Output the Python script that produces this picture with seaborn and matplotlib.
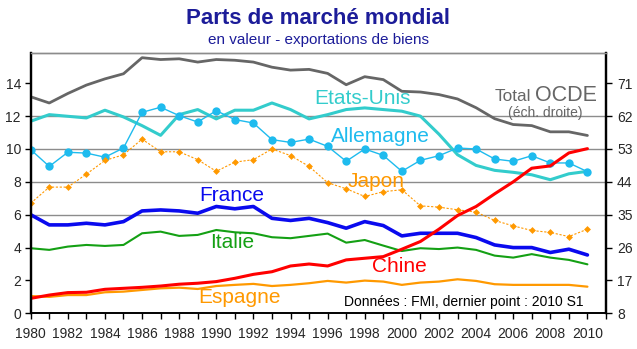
import numpy as np
import pandas as pd
import matplotlib
matplotlib.use("Agg")
import matplotlib.pyplot as plt
import seaborn as sns

years = list(range(1980, 2011))

etats_unis = [11.69, 12.09, 11.99, 11.89, 12.36, 11.95, 11.42, 10.83, 12.09, 12.40, 11.83, 12.36, 12.36, 12.80, 12.40, 11.83,
              12.09, 12.40, 12.50, 12.40, 12.30, 12.00, 10.90, 9.65, 9.00, 8.70, 8.58, 8.43, 8.13, 8.49, 8.64]
allemagne = [9.96, 8.94, 9.80, 9.75, 9.50, 10.06, 12.23, 12.54, 12.03, 11.64, 12.33, 11.79, 11.58, 10.57, 10.40, 10.60,
             10.16, 9.25, 10.00, 9.61, 8.64, 9.31, 9.59, 10.06, 10.00, 9.39, 9.25, 9.59, 9.15, 9.15, 8.62]
japon = [6.70, 7.68, 7.68, 8.47, 9.30, 9.65, 10.60, 9.83, 9.83, 9.35, 8.64, 9.20, 9.35, 10.00, 9.60, 8.94,
         7.95, 7.58, 7.11, 7.40, 7.52, 6.54, 6.46, 6.30, 6.16, 5.65, 5.32, 5.04, 4.92, 4.67, 5.12]
france = [6.00, 5.38, 5.38, 5.48, 5.38, 5.58, 6.23, 6.29, 6.23, 6.09, 6.50, 6.36, 6.50, 5.78, 5.65, 5.78,
          5.52, 5.18, 5.58, 5.34, 4.71, 4.87, 4.87, 4.87, 4.61, 4.16, 4.00, 4.00, 3.70, 3.90, 3.55]
italie = [3.96, 3.86, 4.06, 4.16, 4.10, 4.16, 4.87, 4.97, 4.71, 4.77, 5.07, 4.93, 4.87, 4.63, 4.57, 4.71,
          4.85, 4.30, 4.46, 4.12, 3.79, 3.96, 3.91, 4.00, 3.86, 3.51, 3.39, 3.60, 3.39, 3.25, 2.98]
chine = [0.91, 1.11, 1.26, 1.28, 1.46, 1.52, 1.58, 1.66, 1.77, 1.83, 1.93, 2.13, 2.37, 2.53, 2.88, 3.00,
         2.88, 3.25, 3.35, 3.45, 3.90, 4.37, 5.12, 5.95, 6.50, 7.27, 8.00, 8.83, 8.97, 9.76, 10.02]
espagne = [1.05, 1.00, 1.11, 1.11, 1.28, 1.32, 1.42, 1.52, 1.56, 1.48, 1.66, 1.73, 1.79, 1.66, 1.73, 1.83,
           1.97, 1.87, 1.99, 1.93, 1.73, 1.87, 1.93, 2.07, 1.97, 1.77, 1.73, 1.73, 1.73, 1.73, 1.62]
total_ocde = [67.3, 65.6, 68.2, 70.5, 72.2, 73.6, 78.0, 77.5, 77.7, 76.8, 77.5, 77.3, 76.8, 75.4, 74.6, 74.8,
              73.7, 70.6, 72.8, 72.0, 68.8, 68.6, 67.9, 66.7, 64.3, 61.3, 59.7, 59.4, 57.7, 57.7, 56.7]

left_ticks = [0, 2, 4, 6, 8, 10, 12, 14]
right_ticks = [8, 17, 26, 35, 44, 53, 62, 71]
x_ticks = list(range(1980, 2011, 2))

sns.set_theme(style="white")
plt.rcParams['font.family'] = ['Liberation Sans', 'DejaVu Sans']

fig = plt.figure(figsize=(6.37, 3.49), dpi=100)
ax = fig.add_axes([0.0482, 0.1023, 0.9031, 0.7467])
ax2 = ax.twinx()

c_us = "#33CCCC"
c_de = "#1EBBEE"
c_jp = "#FF9900"
c_fr = "#0A0AEE"
c_it = "#14A014"
c_cn = "#FF0000"
c_es = "#FF9900"
c_oc = "#666666"

for yv in [6, 8, 10, 12]:
    ax.axhline(yv, color="#8C8C8C", lw=1.0, zorder=0)

sns.lineplot(x=years, y=etats_unis, ax=ax, color=c_us, lw=2.2)
sns.lineplot(x=years, y=allemagne, ax=ax, color=c_de, lw=1.0, marker="o", markersize=6,
             markeredgewidth=0, markerfacecolor=c_de)
sns.lineplot(x=years, y=japon, ax=ax, color=c_jp, lw=0.8, linestyle=(0, (2, 1.5)), marker="D",
             markersize=3.5, markeredgewidth=0, markerfacecolor=c_jp)
sns.lineplot(x=years, y=france, ax=ax, color=c_fr, lw=2.6)
sns.lineplot(x=years, y=italie, ax=ax, color=c_it, lw=1.5)
sns.lineplot(x=years, y=espagne, ax=ax, color=c_es, lw=1.6)
sns.lineplot(x=years, y=chine, ax=ax, color=c_cn, lw=2.2)
sns.lineplot(x=years, y=total_ocde, ax=ax2, color=c_oc, lw=2.0)

ax.set_xlim(1980, 2011)
ax.set_ylim(0, 15.86)
ax2.set_ylim(8, 8 + 4.5 * 15.86)

ax.set_xticks(x_ticks)
ax.set_xticks(list(range(1980, 2012)), minor=True)
ax.set_xticklabels([str(t) for t in x_ticks], fontsize=10)
ax.set_yticks(left_ticks)
ax.set_yticklabels([str(t) for t in left_ticks], fontsize=10)
ax2.set_yticks(right_ticks)
ax2.set_yticklabels([str(t) for t in right_ticks], fontsize=10)

ax.tick_params(axis="x", which="both", direction="out", length=4, width=1, color="black", pad=6, bottom=True)
ax.tick_params(axis="y", direction="out", length=4, width=1, color="black", pad=3, left=True)
ax2.tick_params(axis="y", direction="out", length=4, width=1, color="black", pad=4, right=True)

for a in (ax, ax2):
    a.grid(False)
    a.set_xlabel("")
    a.set_ylabel("")
    a.spines["left"].set_color("black")
    a.spines["left"].set_linewidth(1.6)
    a.spines["right"].set_color("black")
    a.spines["right"].set_linewidth(1.6)
    a.spines["bottom"].set_color("black")
    a.spines["bottom"].set_linewidth(1.2)
    a.spines["top"].set_color("#8C8C8C")
    a.spines["top"].set_linewidth(1.0)

fig.text(0.5, 0.947, "Parts de marché mondial", ha="center", va="center", fontsize=16,
         fontweight="bold", color="#1C1C99")
fig.text(0.5, 0.884, "en valeur - exportations de biens", ha="center", va="center", fontsize=11,
         color="#1C1C99")

lab = dict(fontsize=15, va="center", ha="left")
ax.text(1995.3, 13.05, "Etats-Unis", color=c_us, **lab)
ax.text(1996.2, 10.75, "Allemagne", color=c_de, **lab)
ax.text(1997.1, 8.0, "Japon", color=c_jp, **lab)
ax.text(1989.1, 7.15, "France", color=c_fr, **lab)
ax.text(1989.65, 4.3, "Italie", color=c_it, **lab)
ax.text(1998.4, 2.82, "Chine", color=c_cn, **lab)
ax.text(1989.05, 0.98, "Espagne", color=c_es, **lab)
ax.text(2005.0, 13.2, "Total", color=c_oc, fontsize=12.4, va="center", ha="left")
ax.text(2007.15, 13.28, "OCDE", color=c_oc, fontsize=15.5, va="center", ha="left")
ax.text(2005.7, 12.18, "(éch. droite)", color=c_oc, fontsize=10, va="center", ha="left")
ax.text(1996.87, 0.66, "Données : FMI, dernier point : 2010 S1", color="black", fontsize=10,
        va="center", ha="left")

fig.savefig("out.png", dpi=100)
